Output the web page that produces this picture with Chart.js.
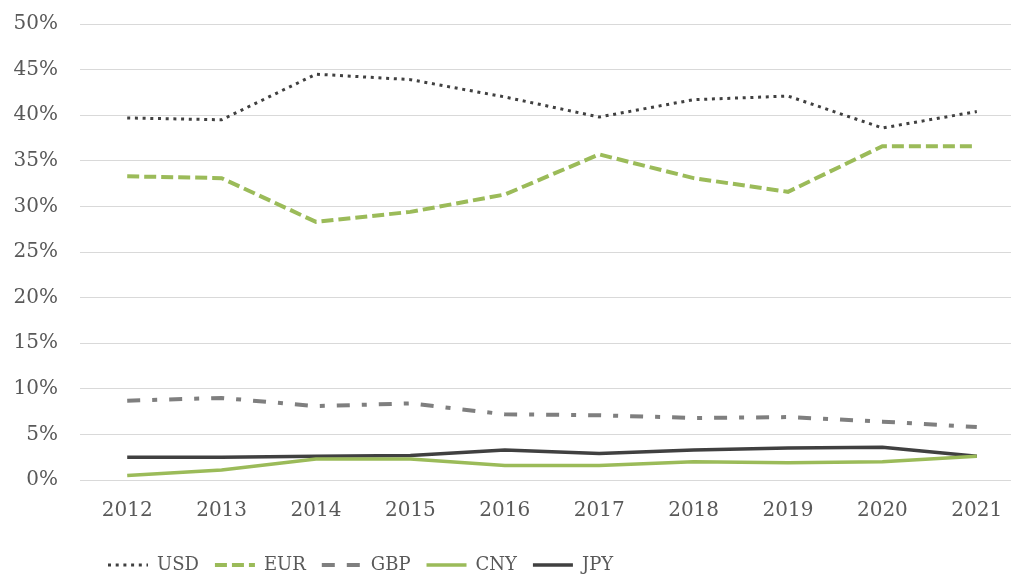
<!DOCTYPE html>
<html>
<head>
<meta charset="utf-8">
<script src="https://cdn.jsdelivr.net/npm/chart.js@4/dist/chart.umd.min.js"></script>
<style>
  html, body { margin: 0; padding: 0; background: #fff; overflow: hidden; }
</style>
</head>
<body>
<canvas id="chartjs-divisas" width="1024" height="584"></canvas>
<script>
const years = ["2012", "2013", "2014", "2015", "2016", "2017", "2018", "2019", "2020", "2021"];

const usd = [39.7, 39.5, 44.5, 43.9, 42.0, 39.8, 41.7, 42.1, 38.6, 40.4];
const eur = [33.3, 33.1, 28.3, 29.4, 31.3, 35.7, 33.1, 31.6, 36.6, 36.6];
const gbp = [8.7, 9.0, 8.1, 8.4, 7.2, 7.1, 6.8, 6.9, 6.4, 5.8];
const cny = [0.5, 1.1, 2.3, 2.3, 1.6, 1.6, 2.0, 1.9, 2.0, 2.6];
const jpy = [2.5, 2.5, 2.6, 2.7, 3.3, 2.9, 3.3, 3.5, 3.6, 2.6];

const green = "#9bbb59";
const dark = "#404040";
const grey = "#7f7f7f";

// moves the legend to the left, like in the original
const legendLeft = {
  id: "legendLeft",
  beforeDraw(chart) {
    chart.legend.left = 92;
  },
};

new Chart(document.getElementById("chartjs-divisas"), {
  type: "line",
  data: {
    labels: years,
    datasets: [
      {
        label: "USD",
        data: usd,
        borderColor: dark,
        backgroundColor: "transparent",
        borderWidth: 3,
        borderDash: [3, 4.7],
      },
      {
        label: "EUR",
        data: eur,
        borderColor: green,
        backgroundColor: "transparent",
        borderWidth: 4,
        borderDash: [12, 5],
      },
      {
        label: "GBP",
        data: gbp,
        borderColor: grey,
        backgroundColor: "transparent",
        borderWidth: 4,
        borderDash: [13, 12, 5, 12],
      },
      {
        label: "CNY",
        data: cny,
        borderColor: green,
        backgroundColor: "transparent",
        borderWidth: 3.5,
      },
      {
        label: "JPY",
        data: jpy,
        borderColor: dark,
        backgroundColor: "transparent",
        borderWidth: 3.5,
      },
    ],
  },
  options: {
    responsive: false,
    animation: false,
    layout: { padding: { top: 24, right: 0, bottom: 0, left: 0 } },
    elements: {
      line: { tension: 0 },
      point: { radius: 0, hoverRadius: 0 },
    },
    scales: {
      x: {
        offset: true,
        grid: { display: false },
        border: { display: false },
        ticks: {
          color: "#595959",
          padding: 11,
          font: { family: "'DejaVu Serif'", size: 20 },
        },
        afterFit(scale) {
          scale.height = 60;
        },
      },
      y: {
        min: 0,
        max: 50,
        grid: { color: "#d9d9d9", lineWidth: 1, drawTicks: false },
        border: { display: false },
        ticks: {
          stepSize: 5,
          color: "#595959",
          padding: 22,
          font: { family: "'DejaVu Serif'", size: 20 },
          callback: (v) => v + "%",
        },
        afterFit(scale) {
          scale.width = 80;
          scale.paddingTop = 12;
          scale.paddingBottom = 12;
        },
      },
    },
    plugins: {
      tooltip: { enabled: false },
      legend: {
        position: "bottom",
        align: "start",
        labels: {
          boxWidth: 40,
          boxHeight: 0,
          padding: 16,
          color: "#595959",
          font: { family: "'DejaVu Serif'", size: 18 },
        },
      },
    },
  },
  plugins: [legendLeft],
});
</script>
</body>
</html>
